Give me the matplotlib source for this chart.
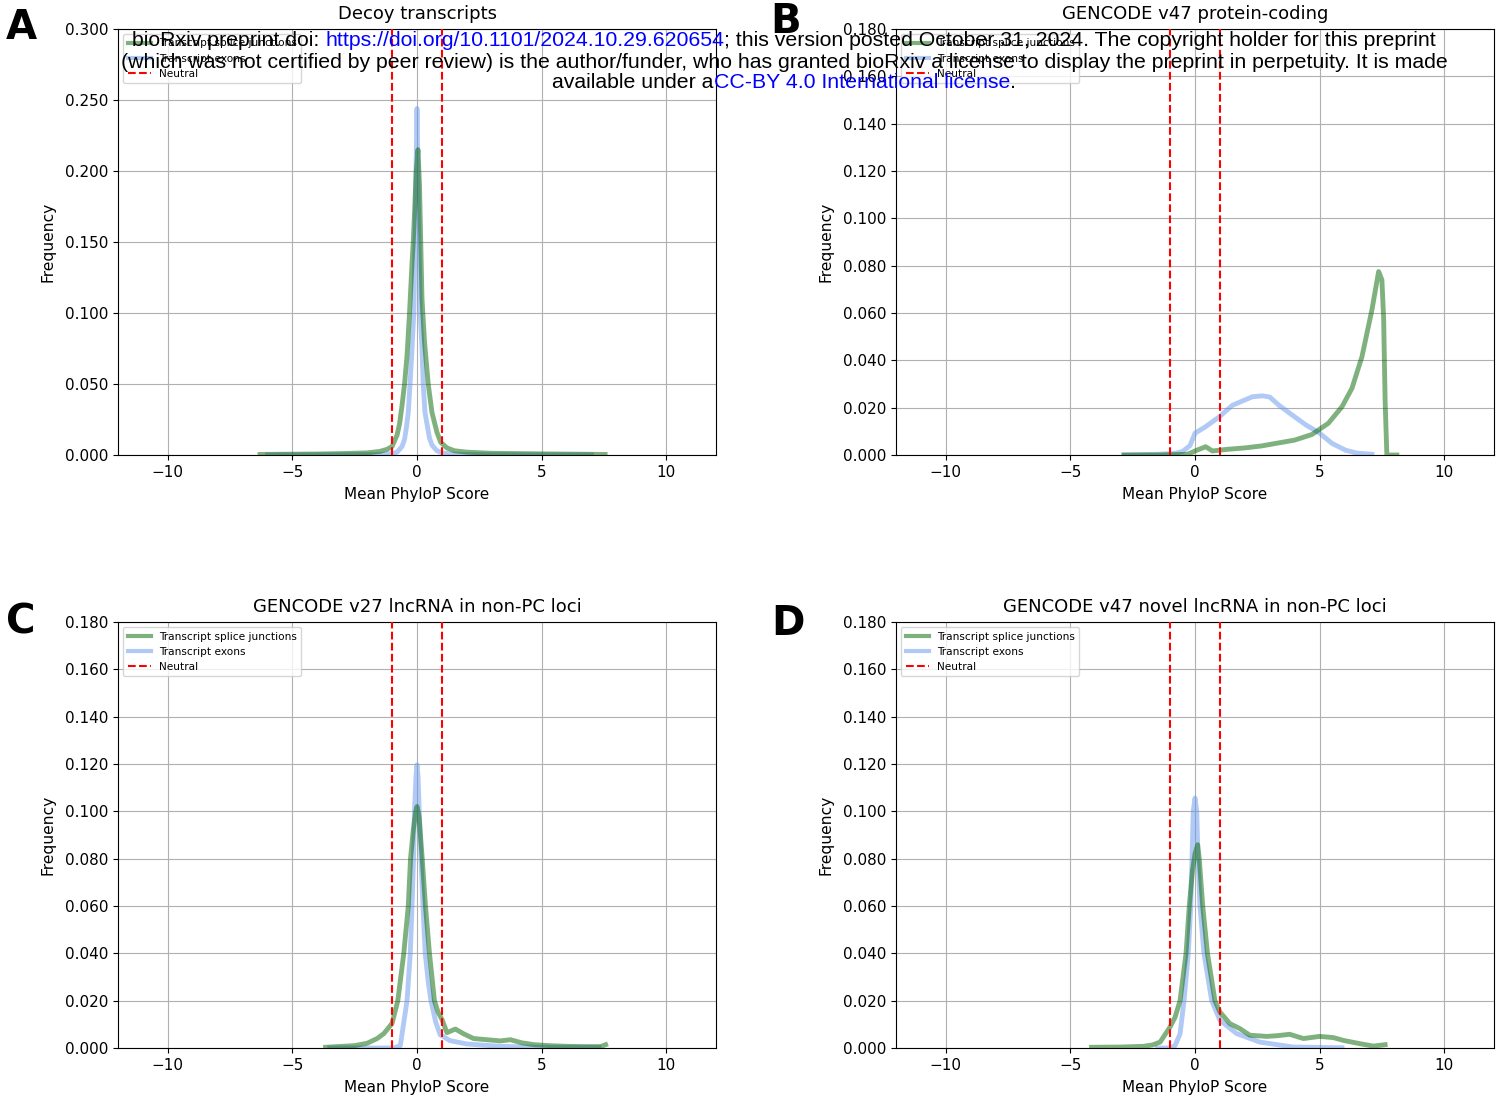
import numpy as np
import matplotlib
matplotlib.use('Agg')
import matplotlib.pyplot as plt

# ---- data (x = mean PhyloP score, y = frequency) ----
titles = ['Decoy transcripts', 'GENCODE v47 protein-coding',
          'GENCODE v27 lncRNA in non-PC loci', 'GENCODE v47 novel lncRNA in non-PC loci']
panel_letters = ['A', 'B', 'C', 'D']
y_max = [0.3, 0.18, 0.18, 0.18]

# A: decoy
a_junc_x = [-6.3, -4.0, -3.0, -2.0, -1.5, -1.2, -1.0, -0.8, -0.7, -0.6, -0.5, -0.4, -0.3, -0.2, -0.15,
            -0.1, -0.03, 0.04, 0.1, 0.15, 0.2, 0.3, 0.45, 0.6, 0.8, 0.95, 1.2, 1.5, 2.0, 3.0, 5.0, 7.55]
a_junc_y = [0.0004, 0.0007, 0.001, 0.0015, 0.0025, 0.004, 0.006, 0.014, 0.022, 0.035, 0.05, 0.07, 0.1,
            0.135, 0.15, 0.17, 0.2, 0.215, 0.19, 0.15, 0.11, 0.08, 0.05, 0.03, 0.016, 0.009, 0.005,
            0.003, 0.002, 0.0012, 0.0008, 0.0004]
a_exon_x = [-6.0, -3.0, -1.5, -1.0, -0.8, -0.6, -0.5, -0.42, -0.35, -0.28, -0.2, -0.13, -0.08, -0.04, 0.0,
            0.04, 0.08, 0.13, 0.2, 0.25, 0.32, 0.42, 0.5, 0.6, 0.8, 1.0, 1.5, 3.0, 7.0]
a_exon_y = [0.0001, 0.0002, 0.0003, 0.001, 0.002, 0.006, 0.011, 0.02, 0.03, 0.05, 0.075, 0.1, 0.15, 0.2,
            0.244, 0.2, 0.15, 0.1, 0.075, 0.05, 0.03, 0.02, 0.012, 0.007, 0.003, 0.0015, 0.0005,
            0.0002, 0.0001]

# B: protein-coding
b_junc_x = [-2.85, -1.5, -0.3, 0.0, 0.43, 0.7, 1.3, 2.0, 2.65, 3.3, 4.0, 4.7, 5.35, 5.9, 6.3, 6.7, 7.1,
            7.37, 7.5, 7.57, 7.63, 7.7, 8.1]
b_junc_y = [0.0, 0.0, 0.0003, 0.0017, 0.0035, 0.0017, 0.0024, 0.003, 0.0038, 0.005, 0.0063, 0.0087,
            0.0134, 0.0204, 0.0282, 0.0415, 0.0613, 0.0775, 0.074, 0.058, 0.023, 0.0, 0.0]
b_exon_x = [-2.85, -1.5, -0.8, -0.5, -0.2, 0.0, 0.43, 0.96, 1.5, 2.3, 2.7, 3.0, 3.37, 3.9, 4.45, 4.98,
            5.5, 6.05, 6.5, 7.1]
b_exon_y = [0.0, 0.0003, 0.0007, 0.0015, 0.004, 0.0092, 0.012, 0.016, 0.021, 0.0246, 0.025, 0.0245,
            0.021, 0.0169, 0.0127, 0.0094, 0.0049, 0.002, 0.0008, 0.0003]

# C: v27 lncRNA
c_junc_x = [-3.67, -2.5, -2.0, -1.6, -1.33, -1.0, -0.77, -0.53, -0.35, -0.26, -0.15, -0.05, 0.0, 0.08,
            0.21, 0.34, 0.5, 0.7, 0.85, 1.0, 1.2, 1.54, 1.87, 2.27, 2.8, 3.35, 3.75, 4.2, 4.7, 5.3, 6.03,
            6.7, 7.37, 7.57]
c_junc_y = [0.0003, 0.001, 0.002, 0.004, 0.0061, 0.0104, 0.02, 0.04, 0.06, 0.08, 0.092, 0.1, 0.102,
            0.098, 0.08, 0.06, 0.04, 0.02, 0.015, 0.0121, 0.0065, 0.008, 0.006, 0.004, 0.0035, 0.003,
            0.0035, 0.0022, 0.0014, 0.001, 0.0007, 0.0006, 0.0006, 0.0014]
c_exon_x = [-3.5, -1.5, -0.93, -0.67, -0.4, -0.27, -0.2, -0.14, -0.1, -0.04, 0.0, 0.04, 0.09, 0.16, 0.24,
            0.33, 0.45, 0.56, 0.75, 0.93, 1.33, 2.0, 3.35, 5.0, 7.3]
c_exon_y = [0.0, 0.0, 0.0, 0.001, 0.02, 0.04, 0.06, 0.08, 0.1, 0.115, 0.1196, 0.115, 0.1, 0.08, 0.06,
            0.04, 0.028, 0.02, 0.011, 0.0056, 0.0031, 0.0017, 0.0007, 0.0003, 0.0002]

# D: v47 novel lncRNA
d_junc_x = [-4.15, -3.0, -2.07, -1.7, -1.4, -1.0, -0.8, -0.6, -0.36, -0.23, -0.1, 0.0, 0.107, 0.17,
            0.31, 0.5, 0.8, 1.0, 1.4, 1.8, 2.2, 2.88, 3.3, 3.8, 4.35, 5.0, 5.55, 5.96, 6.63, 7.16, 7.63]
d_junc_y = [0.0003, 0.0004, 0.0007, 0.0013, 0.0025, 0.0089, 0.013, 0.02, 0.04, 0.06, 0.075, 0.082,
            0.0859, 0.08, 0.06, 0.04, 0.02, 0.0152, 0.0103, 0.0082, 0.0054, 0.0049, 0.0052, 0.0058,
            0.004, 0.0049, 0.0044, 0.0032, 0.0018, 0.0008, 0.0014]
d_exon_x = [-1.5, -1.0, -0.8, -0.6, -0.44, -0.27, -0.17, -0.07, 0.0, 0.07, 0.12, 0.2, 0.36, 0.67, 1.0,
            1.67, 2.6, 3.95, 5.9]
d_exon_y = [0.0, 0.0, 0.001, 0.006, 0.02, 0.04, 0.06, 0.1, 0.1056, 0.1, 0.08, 0.06, 0.04, 0.02, 0.0117,
            0.0061, 0.0025, 0.0004, 0.0001]

curves = [(a_junc_x, a_junc_y, a_exon_x, a_exon_y),
          (b_junc_x, b_junc_y, b_exon_x, b_exon_y),
          (c_junc_x, c_junc_y, c_exon_x, c_exon_y),
          (d_junc_x, d_junc_y, d_exon_x, d_exon_y)]

neutral = [-1, 1]
x_ticks = [-10, -5, 0, 5, 10]


def draw_panel(ax, idx):
    jx, jy, ex, ey = curves[idx]
    ax.plot(jx, jy, color='darkgreen', alpha=0.5, lw=3.5, label='Transcript splice junctions', zorder=3)
    ax.plot(ex, ey, color='cornflowerblue', alpha=0.5, lw=3.5, label='Transcript exons', zorder=2)
    ax.axvline(neutral[0], color='red', ls='--', lw=1.5, label='Neutral', zorder=4)
    ax.axvline(neutral[1], color='red', ls='--', lw=1.5, zorder=4)
    ax.set_xlim(-12, 12)
    ax.set_ylim(0, y_max[idx])
    ax.set_xticks(x_ticks)
    ax.set_yticks(np.round(np.arange(0, y_max[idx] + 1e-9, 0.05 if idx == 0 else 0.02), 3))
    ax.yaxis.set_major_formatter(matplotlib.ticker.FormatStrFormatter('%.3f'))
    ax.tick_params(labelsize=11)
    ax.grid(True)
    ax.set_title(titles[idx], fontsize=13, pad=7)
    ax.set_xlabel('Mean PhyloP Score', fontsize=11, labelpad=5)
    ax.set_ylabel('Frequency', fontsize=11.2, labelpad=7)
    leg = ax.legend(loc='upper left', fontsize=7.6, handlelength=2.2)
    for l in leg.get_lines()[:2]:
        l.set_linewidth(3)


def colored_line(fig, renderer, y, parts, size):
    # draw a line of text made of (string, colour) pieces, centred on the figure
    W = fig.bbox.width
    widths = []
    for s, c in parts:
        t = fig.text(0, 0, s, fontsize=size, family='Liberation Sans')
        widths.append(t.get_window_extent(renderer).width)
        t.remove()
    x = (784 - sum(widths) / 2) / W
    for (s, c), w in zip(parts, widths):
        fig.text(x, y, s, fontsize=size, family='Liberation Sans', color=c, va='center', zorder=10)
        x += w / W


def main():
    fig = plt.figure(figsize=(15.08, 11.02), dpi=100)
    W, H = 1508.0, 1102.0
    lefts = [118, 896, 118, 896]
    bottoms = [455, 455, 1048, 1048]
    for i in range(4):
        ax = fig.add_axes([lefts[i] / W, 1 - bottoms[i] / H, 598 / W, 426 / H])
        draw_panel(ax, i)

    letter_pos = [(6, 28), (770, 22), (6, 623), (771, 624)]
    for letter, (px, py) in zip(panel_letters, letter_pos):
        fig.text(px / W, 1 - py / H, letter, fontsize=29, fontweight='bold', va='center')

    renderer = fig.canvas.get_renderer()
    size = 15.3
    colored_line(fig, renderer, 1 - 40 / H,
                 [('bioRxiv preprint doi: ', 'black'),
                  ('https://doi.org/10.1101/2024.10.29.620654', 'blue'),
                  ('; this version posted October 31, 2024. The copyright holder for this preprint', 'black')],
                 size)
    colored_line(fig, renderer, 1 - 62 / H,
                 [('(which was not certified by peer review) is the author/funder, who has granted bioRxiv '
                   'a license to display the preprint in perpetuity. It is made', 'black')], size)
    colored_line(fig, renderer, 1 - 83 / H,
                 [('available under a', 'black'),
                  ('CC-BY 4.0 International license', 'blue'),
                  ('.', 'black')], size)

    plt.savefig('out.png', dpi=100)


if __name__ == '__main__':
    main()
